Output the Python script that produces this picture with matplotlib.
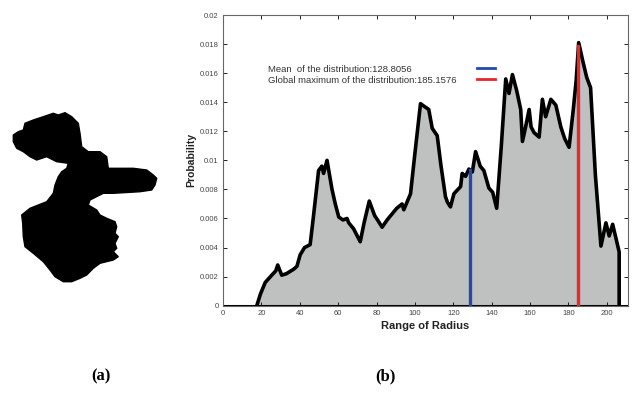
import matplotlib as mpl
mpl.use('Agg')
import matplotlib.pyplot as plt
import numpy as np

plt.rcParams['font.family'] = ['Liberation Sans', 'DejaVu Sans']

# radius distribution
radius = [17.6, 19.5, 22.0, 25.4, 27.5, 28.5, 30.6, 33.0, 36.7, 38.5,
          40.2, 42.5, 45.4, 47.0, 49.8, 51.5, 52.4, 54.2, 56.8, 58.5,
          60.3, 62.5, 64.6, 65.5, 68.0, 71.5, 73.5, 76.2, 79.0, 81.0,
          82.9, 85.5, 88.0, 90.5, 93.3, 94.2, 97.7, 100.0, 102.9, 105.0,
          107.2, 109.0, 111.6, 113.5, 115.9, 117.0, 118.5, 120.3, 123.8, 124.6,
          126.4, 128.1, 129.9, 131.6, 134.0, 135.9, 138.5, 140.5, 142.6, 145.0,
          147.3, 149.0, 150.8, 153.0, 155.1, 156.0, 157.5, 159.5, 160.5, 162.1,
          164.7, 166.4, 168.1, 170.8, 173.4, 176.0, 178.0, 180.3, 182.5, 184.0,
          185.3, 187.5, 189.5, 191.5, 194.0, 196.9, 199.5, 201.2, 203.0, 206.4,
          206.4]
prob = [0.0, 0.0008, 0.0016, 0.0021, 0.0024, 0.0028, 0.0021, 0.0022, 0.0025, 0.0027,
        0.0035, 0.0040, 0.0042, 0.0060, 0.0093, 0.0096, 0.0091, 0.0100, 0.0080, 0.0070,
        0.0061, 0.0059, 0.0060, 0.0057, 0.0053, 0.0044, 0.0057, 0.0072, 0.0062, 0.0058,
        0.0054, 0.0059, 0.0063, 0.0067, 0.0070, 0.0066, 0.0077, 0.0105, 0.0139, 0.0137,
        0.0135, 0.0122, 0.0117, 0.0097, 0.0075, 0.0071, 0.0068, 0.0077, 0.0082, 0.0091,
        0.0089, 0.0094, 0.0092, 0.0106, 0.0096, 0.0093, 0.0081, 0.0078, 0.0067, 0.0110,
        0.0156, 0.0146, 0.0159, 0.0148, 0.0135, 0.0113, 0.0122, 0.0135, 0.0123, 0.0119,
        0.0116, 0.0142, 0.0130, 0.0142, 0.0138, 0.0123, 0.0115, 0.0109, 0.0135, 0.0155,
        0.0181, 0.0168, 0.0157, 0.0150, 0.0090, 0.0041, 0.0057, 0.0048, 0.0056, 0.0037,
        0.0]

mean_r = 128.8056
max_r = 185.1576

# outline of the shape in panel (a), image pixels
shape_x = [25.0, 33.3, 43.3, 53.3, 58.3, 65.0, 71.7, 78.3, 80.0, 81.7,
           88.3, 100.0, 106.7, 108.3, 133.3, 146.7, 153.3, 156.7, 155.0, 151.7,
           140.0, 113.3, 103.3, 90.0, 88.3, 96.7, 100.0, 106.7, 115.0, 116.7,
           115.0, 118.3, 115.0, 116.7, 113.3, 118.3, 113.3, 100.0, 93.3, 86.7,
           80.0, 71.7, 63.3, 55.0, 50.0, 43.3, 33.3, 25.0, 23.3, 22.7,
           21.7, 30.0, 38.3, 46.7, 53.3, 55.0, 58.3, 61.7, 66.7, 68.3,
           56.7, 46.7, 36.7, 30.0, 23.3, 16.7, 13.3, 13.3, 18.3, 23.3]
shape_y = [123.3, 120.0, 116.7, 113.3, 115.0, 112.7, 116.7, 123.3, 133.3, 146.7,
           151.7, 151.7, 156.7, 168.3, 168.3, 170.0, 175.0, 178.3, 185.0, 190.0,
           191.7, 193.3, 193.3, 200.0, 205.0, 210.0, 215.0, 218.3, 221.7, 226.7,
           233.3, 236.7, 243.3, 248.3, 251.7, 256.7, 260.0, 263.3, 268.3, 275.0,
           278.3, 281.7, 281.7, 276.7, 270.0, 261.7, 253.3, 246.7, 236.7, 223.3,
           215.0, 208.3, 205.0, 201.7, 193.3, 185.0, 176.7, 171.7, 168.3, 163.3,
           161.7, 156.7, 160.0, 156.7, 151.7, 148.3, 141.7, 135.0, 131.7, 130.0]

fig = plt.figure(figsize=(6.36, 3.95), dpi=100)

# panel (a) drawn in figure pixel space
bg = fig.add_axes([0, 0, 1, 1])
bg.set_xlim(0, 636)
bg.set_ylim(395, 0)
bg.axis('off')
bg.fill(shape_x, shape_y, color='black', lw=1)
bg.text(101, 376, '(a)', ha='center', va='center', fontsize=12, fontweight='bold',
        family='Liberation Serif')
bg.text(385, 376, '(b)', ha='center', va='center', fontsize=12, fontweight='bold',
        family='Liberation Serif')

# panel (b)
ax = fig.add_axes([223 / 636, 89.3 / 395, 405 / 636, 290.7 / 395])
ax.fill_between(radius, prob, 0, color='#bfc1c1', lw=0)
ax.plot(radius, prob, color='black', lw=2.6, solid_joinstyle='round')

x = np.array(radius)
y = np.array(prob)
ax.plot([mean_r, mean_r], [0, np.interp(mean_r, x[:-1], y[:-1])], color='#2549a8', lw=2.4)
ax.plot([max_r, max_r], [0, y.max() - 0.0002], color='#e8262b', lw=2.4)

ax.set_xlim(0, 211)
ax.set_ylim(0, 0.02)
ax.set_xticks(np.arange(0, 201, 20))
ax.set_yticks(np.arange(0, 0.0201, 0.002))
ax.set_yticklabels(['0', '0.002', '0.004', '0.006', '0.008', '0.01', '0.012',
                    '0.014', '0.016', '0.018', '0.02'])
ax.tick_params(direction='in', length=3, width=0.6, labelsize=5.5,
               labelcolor='#444444', top=True, right=True, pad=3)
for s in ax.spines.values():
    s.set_color('#666666')
    s.set_linewidth(0.8)
ax.axhline(0, color='black', lw=2.2, zorder=1)

ax.set_xlabel('Range of Radius', fontsize=8, fontweight='bold', labelpad=3, color='#222222')
ax.set_ylabel('Probability', fontsize=7.5, fontweight='bold', labelpad=3, color='#222222')

# legend drawn by hand (text then coloured line)
ax.text(0.111, 0.811, 'Mean  of the distribution:128.8056', transform=ax.transAxes,
        fontsize=6.8, va='center', color='#333333')
ax.text(0.111, 0.773, 'Global maximum of the distribution:185.1576', transform=ax.transAxes,
        fontsize=6.8, va='center', color='#333333')
ax.plot([0.628, 0.672], [0.818, 0.818], color='#2549a8', lw=2, transform=ax.transAxes)
ax.plot([0.628, 0.672], [0.780, 0.780], color='#e8262b', lw=2, transform=ax.transAxes)

plt.savefig('out.png', dpi=100)
